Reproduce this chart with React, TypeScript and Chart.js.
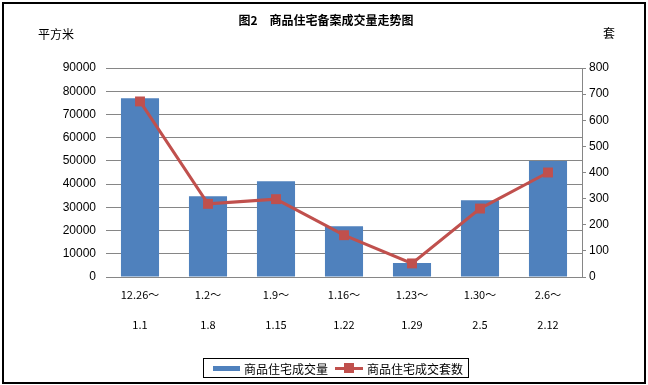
import React, { useEffect, useRef } from "react";
import { Chart, registerables } from "chart.js";

Chart.register(...registerables);

const categories: string[][] = [
  ["12.26～", "1.1"],
  ["1.2～", "1.8"],
  ["1.9～", "1.15"],
  ["1.16～", "1.22"],
  ["1.23～", "1.29"],
  ["1.30～", "2.5"],
  ["2.6～", "2.12"],
];
const areaValues: number[] = [77000, 34800, 41200, 21900, 6000, 33000, 50000];
const unitValues: number[] = [672, 280, 298, 160, 52, 262, 400];

const titleText = "图2　商品住宅备案成交量走势图";
const leftUnit = "平方米";
const rightUnit = "套";
const barLabel = "商品住宅成交量";
const lineLabel = "商品住宅成交套数";

const BAR_COLOR = "#4F81BD";
const LINE_COLOR = "#C0504D";
const GRID_COLOR = "#868686";
const CJK = '"Noto Sans CJK SC", "Liberation Sans", sans-serif';
const NUM = '"Liberation Sans", Arial, sans-serif';

export default function App() {
  const ref = useRef<HTMLCanvasElement>(null);

  useEffect(() => {
    if (!ref.current) return;
    const chart = new Chart(ref.current, {
      data: {
        labels: categories,
        datasets: [
          {
            type: "line",
            label: lineLabel,
            data: unitValues,
            yAxisID: "y1",
            borderColor: LINE_COLOR,
            backgroundColor: LINE_COLOR,
            borderWidth: 3,
            pointStyle: "rect",
            pointRadius: 7,
            pointBackgroundColor: LINE_COLOR,
            pointBorderColor: LINE_COLOR,
            pointBorderWidth: 0,
            order: 0,
          },
          {
            type: "bar",
            label: barLabel,
            data: areaValues,
            yAxisID: "y",
            backgroundColor: BAR_COLOR,
            categoryPercentage: 1,
            barPercentage: 0.56,
            order: 1,
          },
        ],
      },
      options: {
        responsive: false,
        animation: false,
        layout: { padding: { top: 68, left: 0, right: 0, bottom: 0 } },
        plugins: {
          legend: { display: false },
          title: { display: false },
          tooltip: { enabled: false },
        },
        scales: {
          x: {
            grid: { display: false, drawTicks: false },
            border: { display: false },
            ticks: {
              color: "#000",
              font: { family: CJK, size: 11, lineHeight: 2.7 },
              padding: 3,
              maxRotation: 0,
              autoSkip: false,
            },
            afterFit: (s: any) => {
              s.height = 108;
            },
          },
          y: {
            position: "left",
            min: 0,
            max: 90000,
            grid: { color: GRID_COLOR, lineWidth: 1, drawTicks: false },
            border: { display: false },
            ticks: {
              stepSize: 10000,
              color: "#000",
              font: { family: NUM, size: 12 },
              padding: 10,
              callback: (v: any) => String(v),
            },
            afterFit: (s: any) => {
              s.width = 106;
            },
          },
          y1: {
            position: "right",
            min: 0,
            max: 800,
            grid: {
              drawOnChartArea: false,
              color: GRID_COLOR,
              tickLength: 4,
            },
            border: { display: true, color: GRID_COLOR, width: 1 },
            ticks: {
              stepSize: 100,
              color: "#000",
              font: { family: NUM, size: 12 },
              padding: 3,
              callback: (v: any) => String(v),
            },
            afterFit: (s: any) => {
              s.width = 66;
            },
          },
        },
      },
    } as any);
    return () => chart.destroy();
  }, []);

  return (
    <div style={{ position: "relative", width: 648, height: 385, background: "#fff" }}>
      <style>{`body{margin:0;}`}</style>
      <canvas ref={ref} width={648} height={385} style={{ position: "absolute", left: 0, top: 0 }} />
      <div
        style={{
          position: "absolute",
          left: 2,
          top: 2,
          width: 644,
          height: 382,
          boxSizing: "border-box",
          border: "2px solid #000",
          pointerEvents: "none",
        }}
      />
      <div
        style={{
          position: "absolute",
          left: 0,
          width: 652,
          top: 11,
          textAlign: "center",
          font: `bold 12px ${CJK}`,
          color: "#000",
          whiteSpace: "pre",
        }}
      >
        {titleText}
      </div>
      <div style={{ position: "absolute", left: 38, top: 25, font: `12px ${CJK}`, color: "#000" }}>{leftUnit}</div>
      <div style={{ position: "absolute", left: 603, top: 24, font: `12px ${CJK}`, color: "#000" }}>{rightUnit}</div>
      <div
        style={{
          position: "absolute",
          left: 203,
          top: 358,
          width: 266,
          height: 20,
          boxSizing: "border-box",
          border: "1px solid #000",
          display: "flex",
          alignItems: "center",
          font: `12px ${CJK}`,
          color: "#000",
          whiteSpace: "nowrap",
        }}
      >
        <span style={{ display: "inline-block", width: 27, height: 5, background: BAR_COLOR, marginLeft: 9, marginRight: 4 }} />
        <span>{barLabel}</span>
        <span style={{ position: "relative", display: "inline-block", width: 28, height: 10, marginLeft: 7, marginRight: 4 }}>
          <span style={{ position: "absolute", left: 0, top: 4, width: 28, height: 3, background: LINE_COLOR }} />
          <span style={{ position: "absolute", left: 9, top: 0, width: 10, height: 10, background: LINE_COLOR }} />
        </span>
        <span>{lineLabel}</span>
      </div>
    </div>
  );
}
